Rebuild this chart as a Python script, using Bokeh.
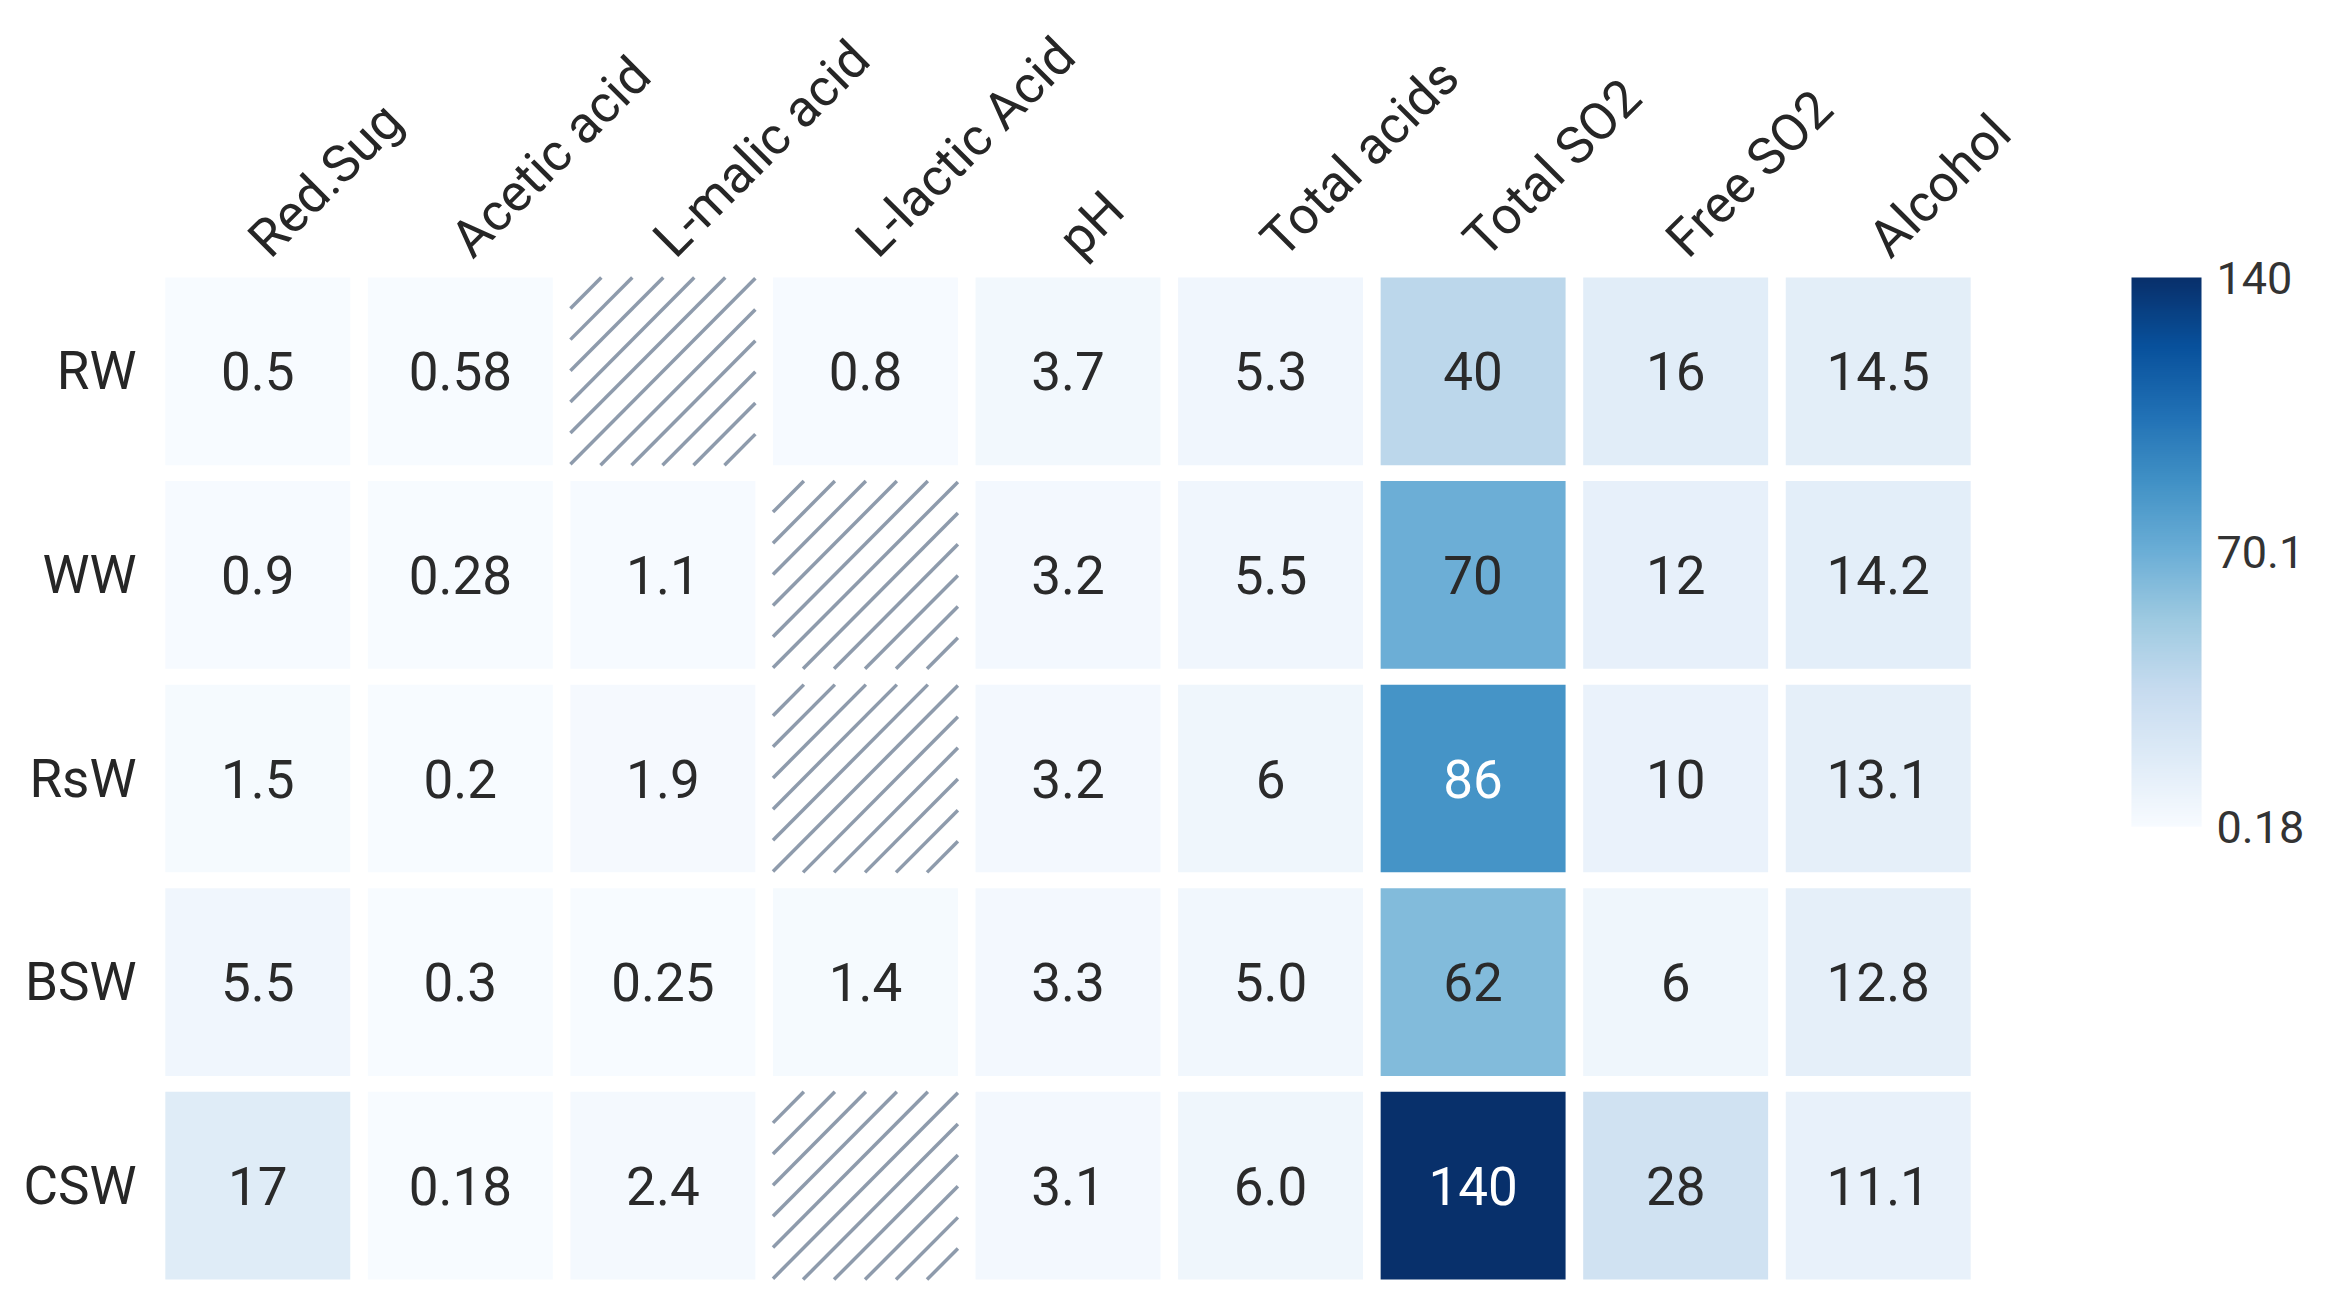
import math
from bokeh.plotting import figure
from bokeh.models import (ColumnDataSource, LinearColorMapper, ColorBar,
                          FixedTicker, FactorRange)
from bokeh.palettes import Blues256
from bokeh.transform import transform
from bokeh.embed import file_html
from bokeh.resources import INLINE
from bokeh.core.properties import value

# ---------------- data ----------------
columns = ["Red.Sug", "Acetic acid", "L-malic acid", "L-lactic Acid", "pH",
           "Total acids", "Total SO2", "Free SO2", "Alcohol"]
rows = ["RW", "WW", "RsW", "BSW", "CSW"]

RW  = ["0.5", "0.58", None,   "0.8", "3.7", "5.3", "40",  "16", "14.5"]
WW  = ["0.9", "0.28", "1.1",  None,  "3.2", "5.5", "70",  "12", "14.2"]
RsW = ["1.5", "0.2",  "1.9",  None,  "3.2", "6",   "86",  "10", "13.1"]
BSW = ["5.5", "0.3",  "0.25", "1.4", "3.3", "5.0", "62",  "6",  "12.8"]
CSW = ["17",  "0.18", "2.4",  None,  "3.1", "6.0", "140", "28", "11.1"]
table = {"RW": RW, "WW": WW, "RsW": RsW, "BSW": BSW, "CSW": CSW}

color_low = 0.18
color_high = 140
colorbar_ticks = [0.18, 70.09, 140]
colorbar_labels = ["0.18", "70.1", "140"]

# ---------------- style ----------------
FONT = "Roboto"
W, H = 0.913, 0.922          # cell size as a fraction of a category step
HATCH_STEP = 0.153           # hatch spacing (category units, horizontal)

# ---------------- build sources ----------------
cx, cy, cv, ct, ctc = [], [], [], [], []
hx0, hy0, hx1, hy1 = [], [], [], []
a, b = W / 2, H / 2
for r in rows:
    for c, s in zip(columns, table[r]):
        if s is None:
            # hatch lines "/" clipped to the cell
            n = int(math.ceil((a + b) / HATCH_STEP)) + 1
            for k in range(-n, n + 1):
                off = k * HATCH_STEP
                x0 = max(-a, -b - off)
                x1 = min(a, b - off)
                if x1 - x0 > 0.01:
                    hx0.append((c, x0)); hy0.append((r, x0 + off))
                    hx1.append((c, x1)); hy1.append((r, x1 + off))
        else:
            v = float(s)
            cx.append(c); cy.append(r); cv.append(v); ct.append(s)
            ctc.append("#ffffff" if v > 80 else "#2a2a2a")
cells = ColumnDataSource(dict(x=cx, y=cy, v=cv, t=ct, tc=ctc))
hatch = ColumnDataSource(dict(x0=hx0, y0=hy0, x1=hx1, y1=hy1))

pal = list(Blues256)
if pal[0] < pal[-1]:
    pal = pal[::-1]
mapper = LinearColorMapper(palette=pal, low=color_low, high=color_high)

p = figure(width=2312, height=1290,
           x_range=FactorRange(*columns), y_range=FactorRange(*reversed(rows)),
           x_axis_location="above", toolbar_location=None, output_backend="svg",
           min_border_left=156, min_border_top=268, min_border_bottom=3,
           min_border_right=333)
p.outline_line_color = None
p.grid.visible = False
p.background_fill_color = "white"
p.border_fill_color = "white"

p.rect(x="x", y="y", width=W, height=H, source=cells,
       fill_color=transform("v", mapper), line_color=None)
p.segment(x0="x0", y0="y0", x1="x1", y1="y1", source=hatch,
          line_color="#8e9bac", line_width=3.5)
p.text(x="x", y="y", text="t", source=cells, text_color="tc",
       text_align="center", text_baseline="middle",
       text_font=value(FONT), text_font_size="53px")

for ax in (p.xaxis, p.yaxis):
    ax.axis_line_color = None
    ax.major_tick_line_color = None
    ax.minor_tick_line_color = None
    ax.major_tick_out = 0
    ax.major_tick_in = 0
    ax.major_label_text_font = FONT
    ax.major_label_text_color = "#262626"

p.yaxis.major_label_text_font_size = "53px"
p.yaxis.major_label_standoff = 20
p.xaxis.major_label_text_font_size = "52px"
p.xaxis.major_label_orientation = math.pi / 4
p.xaxis.major_label_standoff = 22

cb = ColorBar(color_mapper=mapper,
              ticker=FixedTicker(ticks=colorbar_ticks),
              major_label_overrides=dict(zip(colorbar_ticks, colorbar_labels)),
              major_label_text_font=FONT, major_label_text_font_size="45px",
              major_label_text_color="#333333",
              major_tick_line_color=None, bar_line_color=None,
              width=70, height=549, padding=0, margin=0,
              label_standoff=15, location=(152, 461),
              background_fill_color=None, border_line_color=None)
p.add_layout(cb, "right")

open("out.html", "w").write(file_html(p, INLINE))
